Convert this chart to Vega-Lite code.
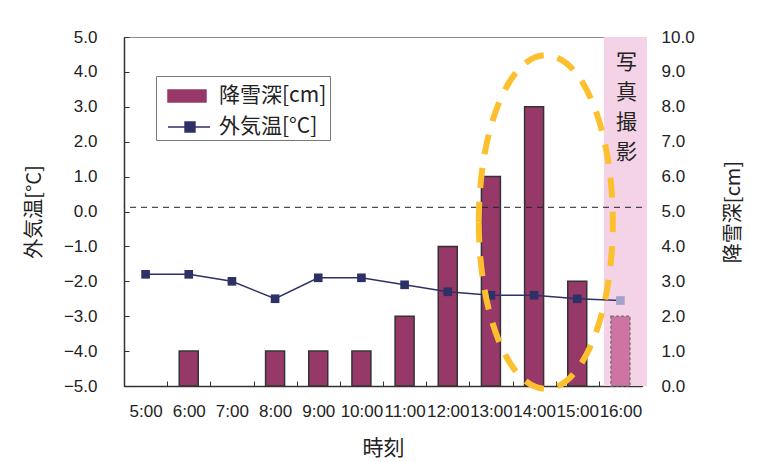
{
  "$schema": "https://vega.github.io/schema/vega-lite/v6.json",
  "width": 518,
  "height": 349,
  "autosize": {"type": "none"},
  "padding": {"left": 124, "top": 37, "right": 121, "bottom": 76},
  "background": "white",
  "config": {
    "view": {"fill": "#c1c2e2", "stroke": "#8a8a8a", "strokeWidth": 1},
    "axis": {
      "labelFont": "Liberation Sans",
      "labelFontSize": 17,
      "labelColor": "#222222",
      "titleFont": "Noto Sans CJK JP",
      "titleFontSize": 20,
      "titleFontWeight": "normal",
      "titleColor": "#222222",
      "domainColor": "#333333",
      "domainWidth": 1.5,
      "tickColor": "#333333",
      "tickWidth": 1,
      "tickSize": -5,
      "grid": false
    }
  },
  "data": {
    "values": [
      {"time": "5:00", "snow": 0, "temp": -1.8},
      {"time": "6:00", "snow": 1, "temp": -1.8},
      {"time": "7:00", "snow": 0, "temp": -2.0},
      {"time": "8:00", "snow": 1, "temp": -2.5},
      {"time": "9:00", "snow": 1, "temp": -1.9},
      {"time": "10:00", "snow": 1, "temp": -1.9},
      {"time": "11:00", "snow": 2, "temp": -2.1},
      {"time": "12:00", "snow": 4, "temp": -2.3},
      {"time": "13:00", "snow": 6, "temp": -2.4},
      {"time": "14:00", "snow": 8, "temp": -2.4},
      {"time": "15:00", "snow": 3, "temp": -2.5},
      {"time": "16:00", "snow": 2, "temp": -2.55}
    ]
  },
  "layer": [
    {
      "transform": [{"filter": "datum.time === '16:00'"}],
      "mark": {"type": "bar", "fill": "#f4d3e6", "width": {"band": 1}, "xOffset": 5},
      "encoding": {
        "x": {
          "field": "time", "type": "ordinal",
          "scale": {"domain": ["5:00","6:00","7:00","8:00","9:00","10:00","11:00","12:00","13:00","14:00","15:00","16:00"], "paddingInner": 0, "paddingOuter": 0},
          "axis": {"title": "時刻", "titleFontSize": 21, "labelAngle": 0, "tickBand": "extent", "labelPadding": 22, "titlePadding": 18}
        },
        "y": {"datum": 10, "type": "quantitative", "scale": {"domain": [0, 10]}, "axis": null},
        "y2": {"datum": 0}
      }
    },
    {
      "transform": [{"filter": "datum.snow > 0"}],
      "mark": {"type": "bar", "width": {"band": 0.44}, "stroke": "#333333", "strokeWidth": 1.5},
      "encoding": {
        "x": {
          "field": "time", "type": "ordinal",
          "scale": {"domain": ["5:00","6:00","7:00","8:00","9:00","10:00","11:00","12:00","13:00","14:00","15:00","16:00"], "paddingInner": 0, "paddingOuter": 0},
          "axis": {"title": "時刻", "titleFontSize": 21, "labelAngle": 0, "tickBand": "extent", "labelPadding": 22, "titlePadding": 18}
        },
        "y": {
          "field": "snow", "type": "quantitative",
          "scale": {"domain": [0, 10], "nice": false},
          "axis": {"orient": "right", "title": "降雪深[cm]", "titleAngle": 270, "values": [0,1,2,3,4,5,6,7,8,9,10], "format": ".1f", "labelPadding": 24, "titlePadding": 49}
        },
        "fill": {"condition": {"test": "datum.time === '16:00'", "value": "#cf74a2"}, "value": "#963868"},
        "stroke": {"condition": {"test": "datum.time === '16:00'", "value": "#777777"}, "value": "#333333"},
        "strokeDash": {"condition": {"test": "datum.time === '16:00'", "value": [3, 2]}, "value": [1, 0]}
      }
    },
    {
      "data": {"values": [{}]},
      "mark": {"type": "rule", "color": "#222222", "strokeWidth": 1, "strokeDash": [6, 5]},
      "encoding": {
        "y": {"datum": 0.12, "type": "quantitative", "scale": {"domain": [-5, 5]}, "axis": null}
      }
    },
    {
      "mark": {"type": "line", "color": "#2e3166", "strokeWidth": 1.5},
      "encoding": {
        "x": {
          "field": "time", "type": "ordinal",
          "scale": {"domain": ["5:00","6:00","7:00","8:00","9:00","10:00","11:00","12:00","13:00","14:00","15:00","16:00"], "paddingInner": 0, "paddingOuter": 0},
          "axis": {"title": "時刻", "titleFontSize": 21, "labelAngle": 0, "tickBand": "extent", "labelPadding": 22, "titlePadding": 18}
        },
        "y": {
          "field": "temp", "type": "quantitative",
          "scale": {"domain": [-5, 5], "nice": false},
          "axis": {"orient": "left", "title": "外気温[°C]", "values": [-5,-4,-3,-2,-1,0,1,2,3,4,5], "format": ".1f", "labelPadding": 32, "titlePadding": 19}
        }
      }
    },
    {
      "mark": {"type": "square", "size": 75, "opacity": 1, "strokeWidth": 0},
      "encoding": {
        "x": {
          "field": "time", "type": "ordinal",
          "scale": {"domain": ["5:00","6:00","7:00","8:00","9:00","10:00","11:00","12:00","13:00","14:00","15:00","16:00"], "paddingInner": 0, "paddingOuter": 0},
          "axis": {"title": "時刻", "titleFontSize": 21, "labelAngle": 0, "tickBand": "extent", "labelPadding": 22, "titlePadding": 18}
        },
        "y": {"field": "temp", "type": "quantitative", "scale": {"domain": [-5, 5], "nice": false}, "axis": null},
        "fill": {"condition": {"test": "datum.time === '16:00'", "value": "#a4a0cc"}, "value": "#2e3166"}
      }
    },
    {
      "transform": [{"filter": "datum.time === '16:00'"}],
      "mark": {"type": "text", "font": "Noto Sans CJK JP", "fontSize": 21, "color": "#222222", "baseline": "top", "align": "center", "lineHeight": 30, "dx": 6, "text": ["写", "真", "撮", "影"]},
      "encoding": {
        "x": {
          "field": "time", "type": "ordinal",
          "scale": {"domain": ["5:00","6:00","7:00","8:00","9:00","10:00","11:00","12:00","13:00","14:00","15:00","16:00"], "paddingInner": 0, "paddingOuter": 0},
          "axis": {"title": "時刻", "titleFontSize": 21, "labelAngle": 0, "tickBand": "extent", "labelPadding": 22, "titlePadding": 18}
        },
        "y": {"datum": 9.58, "type": "quantitative", "scale": {"domain": [0, 10]}, "axis": null}
      }
    },
    {
      "transform": [{"filter": "datum.time === '14:00'"}],
      "mark": {
        "type": "point",
        "shape": "M-0.825,0C-0.825,-1.375,-0.377,-2.49,0.175,-2.49C0.727,-2.49,1.175,-1.375,1.175,0C1.175,1.375,0.727,2.49,0.175,2.49C-0.377,2.49,-0.825,1.375,-0.825,0Z",
        "size": 17956,
        "filled": false,
        "stroke": "#fcc02e",
        "strokeWidth": 6,
        "strokeDash": [20, 14],
        "opacity": 1
      },
      "encoding": {
        "x": {
          "field": "time", "type": "ordinal",
          "scale": {"domain": ["5:00","6:00","7:00","8:00","9:00","10:00","11:00","12:00","13:00","14:00","15:00","16:00"], "paddingInner": 0, "paddingOuter": 0},
          "axis": {"title": "時刻", "titleFontSize": 21, "labelAngle": 0, "tickBand": "extent", "labelPadding": 22, "titlePadding": 18}
        },
        "y": {"datum": 4.7, "type": "quantitative", "scale": {"domain": [0, 10]}, "axis": null}
      }
    },
    {
      "data": {"values": [{"s": "降雪深[cm]"}, {"s": "外気温[°C]"}]},
      "mark": {"type": "point", "opacity": 0},
      "encoding": {
        "color": {
          "field": "s", "type": "nominal",
          "scale": {"domain": ["降雪深[cm]", "外気温[°C]"], "range": ["#963868", "#2e3166"]},
          "legend": {
            "orient": "none", "legendX": 32, "legendY": 39, "title": null,
            "fillColor": "white", "strokeColor": "#777777", "padding": 3,
            "labelFont": "Noto Sans CJK JP", "labelFontSize": 21, "labelColor": "#222222",
            "symbolSize": 1024, "rowPadding": 4, "labelOffset": 26, "labelLimit": 300,
            "encoding": {
              "symbols": {
                "shape": {"condition": {"test": "datum.value === '降雪深[cm]'", "value": "M-0.5,-0.375H1.875V0.375H-0.5Z"}, "value": "M-0.5,0H2.125M0.565,-0.31H1.185V0.31H0.565Z"},
                "fill": {"condition": {"test": "datum.value === '降雪深[cm]'", "value": "#963868"}, "value": "#2e3166"},
                "stroke": {"condition": {"test": "datum.value === '降雪深[cm]'", "value": "#333333"}, "value": "#2e3166"},
                "strokeWidth": {"value": 1.5},
                "opacity": {"value": 1},
                "fillOpacity": {"value": 1},
                "strokeOpacity": {"value": 1}
              }
            }
          }
        }
      }
    }
  ],
  "resolve": {"scale": {"y": "independent"}}
}
